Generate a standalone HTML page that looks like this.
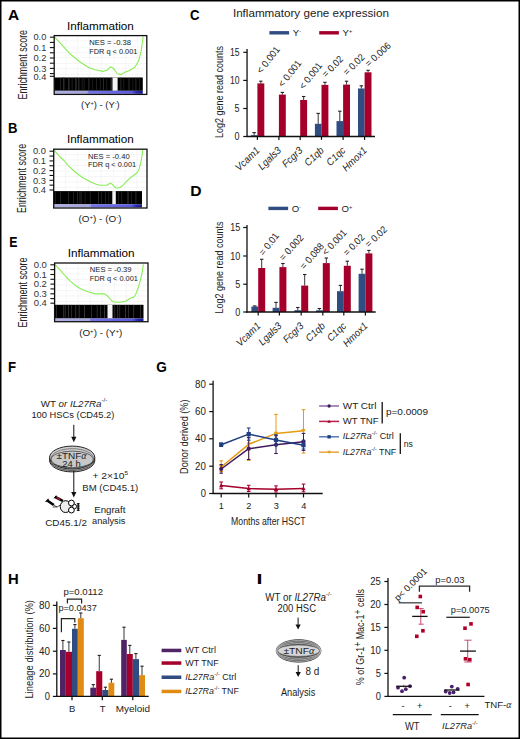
<!DOCTYPE html>
<html><head><meta charset="utf-8"><style>
html,body{margin:0;padding:0;background:#fff;}
body{width:520px;height:739px;overflow:hidden;position:relative;}
svg{position:absolute;left:0;top:0;display:block;font-family:"Liberation Sans", sans-serif;}
.bd{position:absolute;left:0;top:0;width:520px;height:739px;box-sizing:border-box;border:1px solid #000;pointer-events:none;}
</style></head><body>
<svg width="520" height="739" viewBox="0 0 520 739">
<rect x="0" y="0" width="520" height="739" fill="#fff"/>
<defs>
<linearGradient id="gA" x1="0" x2="1" y1="0" y2="0"><stop offset="0" stop-color="#b0b0e2"/><stop offset="0.37" stop-color="#a4a4de"/><stop offset="0.39" stop-color="#7474e6"/><stop offset="0.88" stop-color="#5a5ae0"/><stop offset="0.93" stop-color="#2a2ab0"/><stop offset="1" stop-color="#16168c"/></linearGradient>
<linearGradient id="gB" x1="0" x2="1" y1="0" y2="0"><stop offset="0" stop-color="#b0b0e2"/><stop offset="0.41" stop-color="#a4a4de"/><stop offset="0.43" stop-color="#7474e6"/><stop offset="0.88" stop-color="#5a5ae0"/><stop offset="0.93" stop-color="#2a2ab0"/><stop offset="1" stop-color="#16168c"/></linearGradient>
<linearGradient id="gE" x1="0" x2="1" y1="0" y2="0"><stop offset="0" stop-color="#b0b0e2"/><stop offset="0.39" stop-color="#a4a4de"/><stop offset="0.41" stop-color="#7474e6"/><stop offset="0.88" stop-color="#5a5ae0"/><stop offset="0.93" stop-color="#2a2ab0"/><stop offset="1" stop-color="#16168c"/></linearGradient>
</defs>
<text transform="translate(8.01,19.60) scale(1.099,1)" x="0" y="0" font-size="14.1" font-weight="bold" fill="#000">A</text>
<text x="66.90" y="29.60" font-size="11.2" textLength="66.90" lengthAdjust="spacingAndGlyphs">Inflammation</text>
<text x="26.80" y="99.50" font-size="12.4" fill="#222" textLength="69.60" lengthAdjust="spacingAndGlyphs" transform="rotate(-90 26.80 99.50)">Enrichment score</text>
<line x1="65.90" y1="35.60" x2="65.90" y2="77.50" stroke="#f0f0f0" stroke-width="0.6"/>
<line x1="77.70" y1="35.60" x2="77.70" y2="77.50" stroke="#f0f0f0" stroke-width="0.6"/>
<line x1="89.40" y1="35.60" x2="89.40" y2="77.50" stroke="#f0f0f0" stroke-width="0.6"/>
<line x1="101.60" y1="35.60" x2="101.60" y2="77.50" stroke="#f0f0f0" stroke-width="0.6"/>
<line x1="113.80" y1="35.60" x2="113.80" y2="77.50" stroke="#f0f0f0" stroke-width="0.6"/>
<line x1="125.60" y1="35.60" x2="125.60" y2="77.50" stroke="#f0f0f0" stroke-width="0.6"/>
<line x1="137.40" y1="35.60" x2="137.40" y2="77.50" stroke="#f0f0f0" stroke-width="0.6"/>
<line x1="54.20" y1="41.00" x2="146.80" y2="41.00" stroke="#f0f0f0" stroke-width="0.6"/>
<line x1="54.20" y1="46.90" x2="146.80" y2="46.90" stroke="#f0f0f0" stroke-width="0.6"/>
<line x1="54.20" y1="52.50" x2="146.80" y2="52.50" stroke="#f0f0f0" stroke-width="0.6"/>
<line x1="54.20" y1="57.50" x2="146.80" y2="57.50" stroke="#f0f0f0" stroke-width="0.6"/>
<line x1="54.20" y1="63.50" x2="146.80" y2="63.50" stroke="#f0f0f0" stroke-width="0.6"/>
<line x1="54.20" y1="68.60" x2="146.80" y2="68.60" stroke="#f0f0f0" stroke-width="0.6"/>
<line x1="54.20" y1="74.20" x2="146.80" y2="74.20" stroke="#f0f0f0" stroke-width="0.6"/>
<rect x="54.20" y="77.50" width="88.60" height="13.30" fill="#000"/>
<rect x="60.00" y="77.50" width="0.60" height="13.30" fill="#333"/>
<rect x="63.00" y="77.50" width="1.50" height="13.30" fill="#2a2a2a"/>
<rect x="68.20" y="77.50" width="0.60" height="13.30" fill="#444"/>
<rect x="69.00" y="77.50" width="0.50" height="13.30" fill="#333"/>
<rect x="71.80" y="77.50" width="0.60" height="13.30" fill="#333"/>
<rect x="75.40" y="77.50" width="1.10" height="13.30" fill="#3a3a3a"/>
<rect x="78.60" y="77.50" width="0.60" height="13.30" fill="#555"/>
<rect x="81.80" y="77.50" width="0.60" height="13.30" fill="#333"/>
<rect x="83.80" y="77.50" width="0.60" height="13.30" fill="#333"/>
<rect x="88.40" y="77.50" width="1.00" height="13.30" fill="#333"/>
<rect x="92.50" y="77.50" width="0.60" height="13.30" fill="#2a2a2a"/>
<rect x="96.20" y="77.50" width="0.60" height="13.30" fill="#333"/>
<rect x="100.00" y="77.50" width="0.60" height="13.30" fill="#2a2a2a"/>
<rect x="103.00" y="77.50" width="0.80" height="13.30" fill="#333"/>
<rect x="106.50" y="77.50" width="0.60" height="13.30" fill="#2a2a2a"/>
<rect x="110.80" y="77.50" width="0.80" height="13.30" fill="#444"/>
<rect x="120.50" y="77.50" width="0.80" height="13.30" fill="#333"/>
<rect x="123.50" y="77.50" width="0.60" height="13.30" fill="#2a2a2a"/>
<rect x="128.60" y="77.50" width="0.80" height="13.30" fill="#3a3a3a"/>
<rect x="132.60" y="77.50" width="0.60" height="13.30" fill="#2a2a2a"/>
<rect x="135.50" y="77.50" width="0.80" height="13.30" fill="#333"/>
<rect x="139.00" y="77.50" width="0.60" height="13.30" fill="#2a2a2a"/>
<rect x="112.50" y="77.50" width="5.10" height="13.30" fill="#f4f4f4"/>
<rect x="54.20" y="90.80" width="88.60" height="3.00" fill="url(#gA)"/>
<polyline points="54.8,37.2 61.2,44.2 70.5,54.3 79.7,61.7 88.9,67.7 95.0,69.8 98.0,70.2 102.6,71.4 106.8,70.5 110.5,66.8 113.7,68.6 117.4,73.7 121.5,74.6 124.8,72.3 129.4,70.5 134.9,67.2 138.6,60.8 140.9,52.5 142.3,43.2 143.2,36.3" fill="none" stroke="#88ee55" stroke-width="1.1" stroke-linejoin="round"/>
<rect x="54.2" y="35.6" width="92.60000000000001" height="58.800000000000004" fill="none" stroke="#111" stroke-width="1.3"/>
<line x1="49.90" y1="37.20" x2="54.20" y2="37.20" stroke="#111" stroke-width="1.1"/>
<line x1="49.90" y1="42.40" x2="54.20" y2="42.40" stroke="#111" stroke-width="1.1"/>
<line x1="49.90" y1="47.60" x2="54.20" y2="47.60" stroke="#111" stroke-width="1.1"/>
<line x1="49.90" y1="52.80" x2="54.20" y2="52.80" stroke="#111" stroke-width="1.1"/>
<line x1="49.90" y1="58.00" x2="54.20" y2="58.00" stroke="#111" stroke-width="1.1"/>
<line x1="49.90" y1="63.20" x2="54.20" y2="63.20" stroke="#111" stroke-width="1.1"/>
<line x1="49.90" y1="68.40" x2="54.20" y2="68.40" stroke="#111" stroke-width="1.1"/>
<line x1="49.90" y1="73.60" x2="54.20" y2="73.60" stroke="#111" stroke-width="1.1"/>
<line x1="49.90" y1="76.30" x2="54.20" y2="76.30" stroke="#111" stroke-width="1.1"/>
<text x="46.30" y="40.40" font-size="8.9" text-anchor="end" fill="#333" textLength="12.90" lengthAdjust="spacingAndGlyphs">0.0</text>
<text x="46.30" y="50.80" font-size="8.9" text-anchor="end" fill="#333" textLength="12.90" lengthAdjust="spacingAndGlyphs">0.1</text>
<text x="46.30" y="61.20" font-size="8.9" text-anchor="end" fill="#333" textLength="12.90" lengthAdjust="spacingAndGlyphs">0.2</text>
<text x="46.30" y="71.60" font-size="8.9" text-anchor="end" fill="#333" textLength="12.90" lengthAdjust="spacingAndGlyphs">0.3</text>
<text x="46.30" y="79.50" font-size="8.9" text-anchor="end" fill="#333" textLength="12.90" lengthAdjust="spacingAndGlyphs">0.4</text>
<text x="89.20" y="45.30" font-size="7.4" fill="#222" textLength="41.80" lengthAdjust="spacingAndGlyphs">NES = -0.38</text>
<text x="89.20" y="53.80" font-size="7.4" fill="#222" textLength="48.20" lengthAdjust="spacingAndGlyphs">FDR q &lt; 0.001</text>
<text x="81.10" y="108.40" font-size="9.0" fill="#222" textLength="38.60" lengthAdjust="spacingAndGlyphs">(Y<tspan font-size="5.5" dy="-3.2">+</tspan><tspan dy="3.2">) - (Y<tspan font-size="5.5" dy="-3.2">-</tspan><tspan dy="3.2">)</tspan></tspan></text>
<text transform="translate(8.02,133.00) scale(0.930,1)" x="0" y="0" font-size="14.1" font-weight="bold" fill="#000">B</text>
<text x="66.90" y="143.40" font-size="11.2" textLength="66.80" lengthAdjust="spacingAndGlyphs">Inflammation</text>
<text x="26.30" y="213.00" font-size="12.4" fill="#222" textLength="69.20" lengthAdjust="spacingAndGlyphs" transform="rotate(-90 26.30 213.00)">Enrichment score</text>
<line x1="65.50" y1="149.20" x2="65.50" y2="191.10" stroke="#f0f0f0" stroke-width="0.6"/>
<line x1="77.30" y1="149.20" x2="77.30" y2="191.10" stroke="#f0f0f0" stroke-width="0.6"/>
<line x1="89.00" y1="149.20" x2="89.00" y2="191.10" stroke="#f0f0f0" stroke-width="0.6"/>
<line x1="101.20" y1="149.20" x2="101.20" y2="191.10" stroke="#f0f0f0" stroke-width="0.6"/>
<line x1="113.40" y1="149.20" x2="113.40" y2="191.10" stroke="#f0f0f0" stroke-width="0.6"/>
<line x1="125.20" y1="149.20" x2="125.20" y2="191.10" stroke="#f0f0f0" stroke-width="0.6"/>
<line x1="137.00" y1="149.20" x2="137.00" y2="191.10" stroke="#f0f0f0" stroke-width="0.6"/>
<line x1="53.70" y1="154.50" x2="147.00" y2="154.50" stroke="#f0f0f0" stroke-width="0.6"/>
<line x1="53.70" y1="160.00" x2="147.00" y2="160.00" stroke="#f0f0f0" stroke-width="0.6"/>
<line x1="53.70" y1="165.50" x2="147.00" y2="165.50" stroke="#f0f0f0" stroke-width="0.6"/>
<line x1="53.70" y1="171.00" x2="147.00" y2="171.00" stroke="#f0f0f0" stroke-width="0.6"/>
<line x1="53.70" y1="176.50" x2="147.00" y2="176.50" stroke="#f0f0f0" stroke-width="0.6"/>
<line x1="53.70" y1="182.00" x2="147.00" y2="182.00" stroke="#f0f0f0" stroke-width="0.6"/>
<line x1="53.70" y1="187.50" x2="147.00" y2="187.50" stroke="#f0f0f0" stroke-width="0.6"/>
<rect x="53.70" y="191.10" width="88.30" height="13.20" fill="#000"/>
<rect x="55.20" y="191.10" width="0.60" height="13.20" fill="#2a2a2a"/>
<rect x="60.30" y="191.10" width="0.60" height="13.20" fill="#333"/>
<rect x="68.20" y="191.10" width="0.80" height="13.20" fill="#2a2a2a"/>
<rect x="73.20" y="191.10" width="0.60" height="13.20" fill="#333"/>
<rect x="77.00" y="191.10" width="0.60" height="13.20" fill="#3a3a3a"/>
<rect x="79.70" y="191.10" width="0.60" height="13.20" fill="#444"/>
<rect x="81.50" y="191.10" width="0.50" height="13.20" fill="#333"/>
<rect x="84.80" y="191.10" width="0.60" height="13.20" fill="#2a2a2a"/>
<rect x="89.90" y="191.10" width="0.60" height="13.20" fill="#333"/>
<rect x="98.20" y="191.10" width="0.80" height="13.20" fill="#333"/>
<rect x="101.00" y="191.10" width="0.60" height="13.20" fill="#2a2a2a"/>
<rect x="105.00" y="191.10" width="0.60" height="13.20" fill="#333"/>
<rect x="108.50" y="191.10" width="0.60" height="13.20" fill="#2a2a2a"/>
<rect x="118.00" y="191.10" width="0.60" height="13.20" fill="#2a2a2a"/>
<rect x="121.50" y="191.10" width="0.60" height="13.20" fill="#333"/>
<rect x="127.50" y="191.10" width="1.00" height="13.20" fill="#3a3a3a"/>
<rect x="131.00" y="191.10" width="0.60" height="13.20" fill="#2a2a2a"/>
<rect x="135.50" y="191.10" width="0.80" height="13.20" fill="#333"/>
<rect x="112.30" y="191.10" width="3.50" height="13.20" fill="#f4f4f4"/>
<rect x="53.70" y="204.30" width="88.30" height="3.10" fill="url(#gB)"/>
<polyline points="54.3,150.3 60.0,157.0 64.0,160.5 68.0,165.3 75.1,172.0 82.5,177.5 91.7,182.6 96.0,184.3 100.0,185.2 104.0,185.3 107.2,185.2 108.8,184.0 110.2,183.1 111.5,183.6 112.8,184.9 114.5,186.8 116.0,188.0 118.0,188.0 120.2,187.5 122.9,185.4 126.5,181.5 130.3,177.8 133.5,175.5 136.8,173.0 139.1,169.2 140.9,161.9 142.1,155.4 142.8,149.8" fill="none" stroke="#88ee55" stroke-width="1.1" stroke-linejoin="round"/>
<rect x="53.7" y="149.2" width="93.3" height="58.80000000000001" fill="none" stroke="#111" stroke-width="1.3"/>
<line x1="49.50" y1="151.20" x2="53.70" y2="151.20" stroke="#111" stroke-width="1.1"/>
<line x1="49.50" y1="156.05" x2="53.70" y2="156.05" stroke="#111" stroke-width="1.1"/>
<line x1="49.50" y1="160.90" x2="53.70" y2="160.90" stroke="#111" stroke-width="1.1"/>
<line x1="49.50" y1="165.75" x2="53.70" y2="165.75" stroke="#111" stroke-width="1.1"/>
<line x1="49.50" y1="170.60" x2="53.70" y2="170.60" stroke="#111" stroke-width="1.1"/>
<line x1="49.50" y1="175.45" x2="53.70" y2="175.45" stroke="#111" stroke-width="1.1"/>
<line x1="49.50" y1="180.30" x2="53.70" y2="180.30" stroke="#111" stroke-width="1.1"/>
<line x1="49.50" y1="185.15" x2="53.70" y2="185.15" stroke="#111" stroke-width="1.1"/>
<line x1="49.50" y1="190.00" x2="53.70" y2="190.00" stroke="#111" stroke-width="1.1"/>
<text x="45.90" y="154.40" font-size="8.9" text-anchor="end" fill="#333" textLength="13.00" lengthAdjust="spacingAndGlyphs">0.0</text>
<text x="45.90" y="164.10" font-size="8.9" text-anchor="end" fill="#333" textLength="13.00" lengthAdjust="spacingAndGlyphs">0.1</text>
<text x="45.90" y="173.80" font-size="8.9" text-anchor="end" fill="#333" textLength="13.00" lengthAdjust="spacingAndGlyphs">0.2</text>
<text x="45.90" y="183.50" font-size="8.9" text-anchor="end" fill="#333" textLength="13.00" lengthAdjust="spacingAndGlyphs">0.3</text>
<text x="45.90" y="193.20" font-size="8.9" text-anchor="end" fill="#333" textLength="13.00" lengthAdjust="spacingAndGlyphs">0.4</text>
<text x="88.00" y="158.50" font-size="7.4" fill="#222" textLength="41.70" lengthAdjust="spacingAndGlyphs">NES = -0.40</text>
<text x="88.00" y="166.90" font-size="7.4" fill="#222" textLength="48.10" lengthAdjust="spacingAndGlyphs">FDR q &lt; 0.001</text>
<text x="78.50" y="222.30" font-size="9.0" fill="#222" textLength="43.00" lengthAdjust="spacingAndGlyphs">(O<tspan font-size="5.5" dy="-3.2">+</tspan><tspan dy="3.2">) - (O<tspan font-size="5.5" dy="-3.2">-</tspan><tspan dy="3.2">)</tspan></tspan></text>
<text transform="translate(9.18,246.80) scale(0.872,1)" x="0" y="0" font-size="14.1" font-weight="bold" fill="#000">E</text>
<text x="67.70" y="257.30" font-size="11.2" textLength="66.90" lengthAdjust="spacingAndGlyphs">Inflammation</text>
<text x="26.90" y="327.40" font-size="12.4" fill="#222" textLength="70.00" lengthAdjust="spacingAndGlyphs" transform="rotate(-90 26.90 327.40)">Enrichment score</text>
<line x1="66.40" y1="263.00" x2="66.40" y2="304.80" stroke="#f0f0f0" stroke-width="0.6"/>
<line x1="78.20" y1="263.00" x2="78.20" y2="304.80" stroke="#f0f0f0" stroke-width="0.6"/>
<line x1="90.00" y1="263.00" x2="90.00" y2="304.80" stroke="#f0f0f0" stroke-width="0.6"/>
<line x1="102.20" y1="263.00" x2="102.20" y2="304.80" stroke="#f0f0f0" stroke-width="0.6"/>
<line x1="114.40" y1="263.00" x2="114.40" y2="304.80" stroke="#f0f0f0" stroke-width="0.6"/>
<line x1="126.20" y1="263.00" x2="126.20" y2="304.80" stroke="#f0f0f0" stroke-width="0.6"/>
<line x1="138.00" y1="263.00" x2="138.00" y2="304.80" stroke="#f0f0f0" stroke-width="0.6"/>
<line x1="54.60" y1="268.50" x2="148.00" y2="268.50" stroke="#f0f0f0" stroke-width="0.6"/>
<line x1="54.60" y1="274.00" x2="148.00" y2="274.00" stroke="#f0f0f0" stroke-width="0.6"/>
<line x1="54.60" y1="279.50" x2="148.00" y2="279.50" stroke="#f0f0f0" stroke-width="0.6"/>
<line x1="54.60" y1="285.00" x2="148.00" y2="285.00" stroke="#f0f0f0" stroke-width="0.6"/>
<line x1="54.60" y1="290.50" x2="148.00" y2="290.50" stroke="#f0f0f0" stroke-width="0.6"/>
<line x1="54.60" y1="296.00" x2="148.00" y2="296.00" stroke="#f0f0f0" stroke-width="0.6"/>
<line x1="54.60" y1="301.50" x2="148.00" y2="301.50" stroke="#f0f0f0" stroke-width="0.6"/>
<rect x="54.60" y="304.80" width="88.90" height="13.70" fill="#000"/>
<rect x="56.20" y="304.80" width="0.60" height="13.70" fill="#444"/>
<rect x="63.50" y="304.80" width="0.60" height="13.70" fill="#555"/>
<rect x="64.90" y="304.80" width="0.60" height="13.70" fill="#444"/>
<rect x="68.20" y="304.80" width="0.60" height="13.70" fill="#555"/>
<rect x="71.40" y="304.80" width="0.60" height="13.70" fill="#444"/>
<rect x="75.50" y="304.80" width="0.60" height="13.70" fill="#555"/>
<rect x="78.80" y="304.80" width="0.60" height="13.70" fill="#555"/>
<rect x="84.30" y="304.80" width="0.60" height="13.70" fill="#555"/>
<rect x="91.20" y="304.80" width="0.60" height="13.70" fill="#444"/>
<rect x="96.80" y="304.80" width="0.60" height="13.70" fill="#444"/>
<rect x="100.00" y="304.80" width="0.60" height="13.70" fill="#444"/>
<rect x="104.00" y="304.80" width="0.60" height="13.70" fill="#555"/>
<rect x="114.50" y="304.80" width="0.60" height="13.70" fill="#444"/>
<rect x="117.50" y="304.80" width="0.60" height="13.70" fill="#555"/>
<rect x="119.50" y="304.80" width="0.60" height="13.70" fill="#444"/>
<rect x="125.00" y="304.80" width="0.60" height="13.70" fill="#555"/>
<rect x="128.00" y="304.80" width="0.60" height="13.70" fill="#444"/>
<rect x="133.50" y="304.80" width="0.60" height="13.70" fill="#555"/>
<rect x="140.00" y="304.80" width="0.60" height="13.70" fill="#444"/>
<rect x="107.50" y="304.80" width="5.00" height="13.70" fill="#f4f4f4"/>
<rect x="54.60" y="318.50" width="88.90" height="2.50" fill="url(#gE)"/>
<polyline points="55.0,264.6 61.2,271.2 65.8,276.5 70.5,281.4 75.0,285.2 79.7,288.3 84.3,290.4 88.9,292.0 94.5,293.6 98.0,293.9 101.0,293.7 104.5,293.9 107.2,295.7 110.0,298.9 112.8,301.7 116.0,302.3 119.2,302.2 122.5,301.9 125.7,301.2 128.0,299.8 130.3,298.2 132.5,297.4 134.0,297.0 135.5,294.8 136.8,291.5 138.3,287.5 139.6,283.2 141.9,274.0 143.4,264.3" fill="none" stroke="#88ee55" stroke-width="1.1" stroke-linejoin="round"/>
<rect x="54.6" y="263.0" width="93.4" height="58.69999999999999" fill="none" stroke="#111" stroke-width="1.3"/>
<line x1="50.40" y1="264.80" x2="54.60" y2="264.80" stroke="#111" stroke-width="1.1"/>
<line x1="50.40" y1="269.60" x2="54.60" y2="269.60" stroke="#111" stroke-width="1.1"/>
<line x1="50.40" y1="274.50" x2="54.60" y2="274.50" stroke="#111" stroke-width="1.1"/>
<line x1="50.40" y1="279.30" x2="54.60" y2="279.30" stroke="#111" stroke-width="1.1"/>
<line x1="50.40" y1="284.10" x2="54.60" y2="284.10" stroke="#111" stroke-width="1.1"/>
<line x1="50.40" y1="288.90" x2="54.60" y2="288.90" stroke="#111" stroke-width="1.1"/>
<line x1="50.40" y1="293.80" x2="54.60" y2="293.80" stroke="#111" stroke-width="1.1"/>
<line x1="50.40" y1="298.60" x2="54.60" y2="298.60" stroke="#111" stroke-width="1.1"/>
<line x1="50.40" y1="303.20" x2="54.60" y2="303.20" stroke="#111" stroke-width="1.1"/>
<text x="46.90" y="268.00" font-size="8.9" text-anchor="end" fill="#333" textLength="13.20" lengthAdjust="spacingAndGlyphs">0.0</text>
<text x="46.90" y="277.70" font-size="8.9" text-anchor="end" fill="#333" textLength="13.20" lengthAdjust="spacingAndGlyphs">0.1</text>
<text x="46.90" y="287.30" font-size="8.9" text-anchor="end" fill="#333" textLength="13.20" lengthAdjust="spacingAndGlyphs">0.2</text>
<text x="46.90" y="297.00" font-size="8.9" text-anchor="end" fill="#333" textLength="13.20" lengthAdjust="spacingAndGlyphs">0.3</text>
<text x="46.90" y="306.40" font-size="8.9" text-anchor="end" fill="#333" textLength="13.20" lengthAdjust="spacingAndGlyphs">0.4</text>
<text x="89.80" y="272.30" font-size="7.4" fill="#222" textLength="41.80" lengthAdjust="spacingAndGlyphs">NES = -0.39</text>
<text x="89.80" y="281.00" font-size="7.4" fill="#222" textLength="48.10" lengthAdjust="spacingAndGlyphs">FDR q &lt; 0.001</text>
<text x="79.20" y="336.40" font-size="9.0" fill="#222" textLength="43.10" lengthAdjust="spacingAndGlyphs">(O<tspan font-size="5.5" dy="-3.2">+</tspan><tspan dy="3.2">) - (Y<tspan font-size="5.5" dy="-3.2">+</tspan><tspan dy="3.2">)</tspan></tspan></text>
<text transform="translate(189.96,19.50) scale(0.933,1)" x="0" y="0" font-size="14.1" font-weight="bold" fill="#000">C</text>
<rect x="250.80" y="135.20" width="6.60" height="1.30" fill="#2f4d80"/>
<line x1="254.10" y1="135.20" x2="254.10" y2="132.60" stroke="#231f20" stroke-width="0.9"/>
<line x1="252.40" y1="132.60" x2="255.80" y2="132.60" stroke="#231f20" stroke-width="1.1"/>
<rect x="257.40" y="83.40" width="6.90" height="53.10" fill="#a5002c"/>
<line x1="260.85" y1="83.40" x2="260.85" y2="81.20" stroke="#231f20" stroke-width="0.9"/>
<line x1="259.15" y1="81.20" x2="262.55" y2="81.20" stroke="#231f20" stroke-width="1.1"/>
<rect x="278.90" y="94.60" width="6.90" height="41.90" fill="#a5002c"/>
<line x1="282.35" y1="94.60" x2="282.35" y2="92.40" stroke="#231f20" stroke-width="0.9"/>
<line x1="280.65" y1="92.40" x2="284.05" y2="92.40" stroke="#231f20" stroke-width="1.1"/>
<rect x="300.20" y="100.00" width="6.90" height="36.50" fill="#a5002c"/>
<line x1="303.65" y1="100.00" x2="303.65" y2="96.50" stroke="#231f20" stroke-width="0.9"/>
<line x1="301.95" y1="96.50" x2="305.35" y2="96.50" stroke="#231f20" stroke-width="1.1"/>
<rect x="314.90" y="123.80" width="6.60" height="12.70" fill="#2f4d80"/>
<line x1="318.20" y1="123.80" x2="318.20" y2="113.40" stroke="#231f20" stroke-width="0.9"/>
<line x1="316.50" y1="113.40" x2="319.90" y2="113.40" stroke="#231f20" stroke-width="1.1"/>
<rect x="321.50" y="84.90" width="6.90" height="51.60" fill="#a5002c"/>
<line x1="324.95" y1="84.90" x2="324.95" y2="82.30" stroke="#231f20" stroke-width="0.9"/>
<line x1="323.25" y1="82.30" x2="326.65" y2="82.30" stroke="#231f20" stroke-width="1.1"/>
<rect x="336.50" y="121.10" width="6.60" height="15.40" fill="#2f4d80"/>
<line x1="339.80" y1="121.10" x2="339.80" y2="111.20" stroke="#231f20" stroke-width="0.9"/>
<line x1="338.10" y1="111.20" x2="341.50" y2="111.20" stroke="#231f20" stroke-width="1.1"/>
<rect x="343.10" y="84.60" width="6.90" height="51.90" fill="#a5002c"/>
<line x1="346.55" y1="84.60" x2="346.55" y2="81.20" stroke="#231f20" stroke-width="0.9"/>
<line x1="344.85" y1="81.20" x2="348.25" y2="81.20" stroke="#231f20" stroke-width="1.1"/>
<rect x="358.00" y="88.50" width="6.60" height="48.00" fill="#2f4d80"/>
<line x1="361.30" y1="88.50" x2="361.30" y2="85.80" stroke="#231f20" stroke-width="0.9"/>
<line x1="359.60" y1="85.80" x2="363.00" y2="85.80" stroke="#231f20" stroke-width="1.1"/>
<rect x="364.60" y="72.30" width="6.90" height="64.20" fill="#a5002c"/>
<line x1="368.05" y1="72.30" x2="368.05" y2="70.30" stroke="#231f20" stroke-width="0.9"/>
<line x1="366.35" y1="70.30" x2="369.75" y2="70.30" stroke="#231f20" stroke-width="1.1"/>
<line x1="247.05" y1="49.00" x2="247.05" y2="137.10" stroke="#111" stroke-width="1.3"/>
<line x1="246.45" y1="136.50" x2="375.00" y2="136.50" stroke="#111" stroke-width="1.3"/>
<line x1="243.25" y1="52.30" x2="247.05" y2="52.30" stroke="#111" stroke-width="1.2"/>
<text x="239.60" y="55.80" font-size="10.0" text-anchor="end" fill="#222" textLength="9.60" lengthAdjust="spacingAndGlyphs">15</text>
<line x1="243.25" y1="80.40" x2="247.05" y2="80.40" stroke="#111" stroke-width="1.2"/>
<text x="239.60" y="83.90" font-size="10.0" text-anchor="end" fill="#222" textLength="9.60" lengthAdjust="spacingAndGlyphs">10</text>
<line x1="243.25" y1="108.50" x2="247.05" y2="108.50" stroke="#111" stroke-width="1.2"/>
<text x="239.60" y="112.00" font-size="10.0" text-anchor="end" fill="#222" textLength="5.00" lengthAdjust="spacingAndGlyphs">5</text>
<line x1="243.25" y1="136.50" x2="247.05" y2="136.50" stroke="#111" stroke-width="1.2"/>
<text x="239.60" y="140.00" font-size="10.0" text-anchor="end" fill="#222" textLength="5.00" lengthAdjust="spacingAndGlyphs">0</text>
<line x1="257.40" y1="136.50" x2="257.40" y2="139.90" stroke="#111" stroke-width="1.2"/>
<line x1="278.90" y1="136.50" x2="278.90" y2="139.90" stroke="#111" stroke-width="1.2"/>
<line x1="300.20" y1="136.50" x2="300.20" y2="139.90" stroke="#111" stroke-width="1.2"/>
<line x1="321.50" y1="136.50" x2="321.50" y2="139.90" stroke="#111" stroke-width="1.2"/>
<line x1="343.10" y1="136.50" x2="343.10" y2="139.90" stroke="#111" stroke-width="1.2"/>
<line x1="364.60" y1="136.50" x2="364.60" y2="139.90" stroke="#111" stroke-width="1.2"/>
<text x="222.60" y="138.00" font-size="10.6" fill="#222" textLength="91.90" lengthAdjust="spacingAndGlyphs" transform="rotate(-90 222.60 138.00)">Log2 gene read counts</text>
<text x="261.37" y="74.13" font-size="9.8" fill="#222" textLength="30.95" lengthAdjust="spacingAndGlyphs" transform="rotate(-52 261.37 74.13)">&lt; 0.001</text>
<text x="282.82" y="87.76" font-size="9.8" fill="#222" textLength="30.95" lengthAdjust="spacingAndGlyphs" transform="rotate(-52 282.82 87.76)">&lt; 0.001</text>
<text x="303.72" y="90.06" font-size="9.8" fill="#222" textLength="30.95" lengthAdjust="spacingAndGlyphs" transform="rotate(-52 303.72 90.06)">&lt; 0.001</text>
<text x="325.96" y="78.11" font-size="9.8" fill="#222" textLength="25.83" lengthAdjust="spacingAndGlyphs" transform="rotate(-46 325.96 78.11)">= 0.02</text>
<text x="347.09" y="76.12" font-size="9.8" fill="#222" textLength="25.83" lengthAdjust="spacingAndGlyphs" transform="rotate(-45 347.09 76.12)">= 0.02</text>
<text x="368.68" y="67.35" font-size="9.8" fill="#222" textLength="30.95" lengthAdjust="spacingAndGlyphs" transform="rotate(-42 368.68 67.35)">= 0.006</text>
<text x="260.40" y="151.20" font-size="10.2" text-anchor="end" font-style="italic" fill="#222" textLength="29.27" lengthAdjust="spacingAndGlyphs" transform="rotate(-44 260.40 151.20)">Vcam1</text>
<text x="281.90" y="151.20" font-size="10.2" text-anchor="end" font-style="italic" fill="#222" textLength="27.71" lengthAdjust="spacingAndGlyphs" transform="rotate(-44 281.90 151.20)">Lgals3</text>
<text x="303.20" y="151.20" font-size="10.2" text-anchor="end" font-style="italic" fill="#222" textLength="24.04" lengthAdjust="spacingAndGlyphs" transform="rotate(-44 303.20 151.20)">Fcgr3</text>
<text x="324.50" y="151.20" font-size="10.2" text-anchor="end" font-style="italic" fill="#222" textLength="22.48" lengthAdjust="spacingAndGlyphs" transform="rotate(-44 324.50 151.20)">C1qb</text>
<text x="346.10" y="151.20" font-size="10.2" text-anchor="end" font-style="italic" fill="#222" textLength="21.96" lengthAdjust="spacingAndGlyphs" transform="rotate(-44 346.10 151.20)">C1qc</text>
<text x="367.60" y="151.20" font-size="10.2" text-anchor="end" font-style="italic" fill="#222" textLength="29.79" lengthAdjust="spacingAndGlyphs" transform="rotate(-44 367.60 151.20)">Hmox1</text>
<text x="232.90" y="17.30" font-size="11.0" fill="#222" textLength="156.00" lengthAdjust="spacingAndGlyphs">Inflammatory gene expression</text>
<rect x="269.40" y="31.10" width="19.70" height="3.40" fill="#2f4d80"/>
<text x="292.80" y="36.10" font-size="9.6" fill="#222">Y<tspan font-size="4.8" dy="-3.2">-</tspan><tspan dy="3.2"></tspan></text>
<rect x="319.20" y="31.10" width="19.70" height="3.40" fill="#a5002c"/>
<text x="342.50" y="36.10" font-size="9.6" fill="#222">Y<tspan font-size="5.6" dy="-3.2">+</tspan><tspan dy="3.2"></tspan></text>
<text transform="translate(190.15,195.70) scale(1.110,1)" x="0" y="0" font-size="14.1" font-weight="bold" fill="#000">D</text>
<rect x="251.40" y="306.50" width="6.80" height="5.50" fill="#2f4d80"/>
<line x1="254.80" y1="306.50" x2="254.80" y2="305.90" stroke="#231f20" stroke-width="0.9"/>
<line x1="253.10" y1="305.90" x2="256.50" y2="305.90" stroke="#231f20" stroke-width="1.1"/>
<rect x="258.20" y="268.00" width="7.00" height="44.00" fill="#a5002c"/>
<line x1="261.70" y1="268.00" x2="261.70" y2="259.30" stroke="#231f20" stroke-width="0.9"/>
<line x1="260.00" y1="259.30" x2="263.40" y2="259.30" stroke="#231f20" stroke-width="1.1"/>
<rect x="272.60" y="307.80" width="6.80" height="4.20" fill="#2f4d80"/>
<line x1="276.00" y1="307.80" x2="276.00" y2="302.40" stroke="#231f20" stroke-width="0.9"/>
<line x1="274.30" y1="302.40" x2="277.70" y2="302.40" stroke="#231f20" stroke-width="1.1"/>
<rect x="279.40" y="267.10" width="7.00" height="44.90" fill="#a5002c"/>
<line x1="282.90" y1="267.10" x2="282.90" y2="263.50" stroke="#231f20" stroke-width="0.9"/>
<line x1="281.20" y1="263.50" x2="284.60" y2="263.50" stroke="#231f20" stroke-width="1.1"/>
<rect x="294.40" y="310.20" width="6.80" height="1.80" fill="#2f4d80"/>
<line x1="297.80" y1="310.20" x2="297.80" y2="307.50" stroke="#231f20" stroke-width="0.9"/>
<line x1="296.10" y1="307.50" x2="299.50" y2="307.50" stroke="#231f20" stroke-width="1.1"/>
<rect x="301.20" y="285.60" width="7.00" height="26.40" fill="#a5002c"/>
<line x1="304.70" y1="285.60" x2="304.70" y2="274.50" stroke="#231f20" stroke-width="0.9"/>
<line x1="303.00" y1="274.50" x2="306.40" y2="274.50" stroke="#231f20" stroke-width="1.1"/>
<rect x="316.00" y="310.30" width="6.80" height="1.70" fill="#2f4d80"/>
<line x1="319.40" y1="310.30" x2="319.40" y2="308.50" stroke="#231f20" stroke-width="0.9"/>
<line x1="317.70" y1="308.50" x2="321.10" y2="308.50" stroke="#231f20" stroke-width="1.1"/>
<rect x="322.80" y="263.10" width="7.00" height="48.90" fill="#a5002c"/>
<line x1="326.30" y1="263.10" x2="326.30" y2="258.00" stroke="#231f20" stroke-width="0.9"/>
<line x1="324.60" y1="258.00" x2="328.00" y2="258.00" stroke="#231f20" stroke-width="1.1"/>
<rect x="337.00" y="291.20" width="6.80" height="20.80" fill="#2f4d80"/>
<line x1="340.40" y1="291.20" x2="340.40" y2="285.40" stroke="#231f20" stroke-width="0.9"/>
<line x1="338.70" y1="285.40" x2="342.10" y2="285.40" stroke="#231f20" stroke-width="1.1"/>
<rect x="343.80" y="265.80" width="7.00" height="46.20" fill="#a5002c"/>
<line x1="347.30" y1="265.80" x2="347.30" y2="261.20" stroke="#231f20" stroke-width="0.9"/>
<line x1="345.60" y1="261.20" x2="349.00" y2="261.20" stroke="#231f20" stroke-width="1.1"/>
<rect x="358.60" y="273.80" width="6.80" height="38.20" fill="#2f4d80"/>
<line x1="362.00" y1="273.80" x2="362.00" y2="269.20" stroke="#231f20" stroke-width="0.9"/>
<line x1="360.30" y1="269.20" x2="363.70" y2="269.20" stroke="#231f20" stroke-width="1.1"/>
<rect x="365.40" y="253.40" width="7.00" height="58.60" fill="#a5002c"/>
<line x1="368.90" y1="253.40" x2="368.90" y2="250.40" stroke="#231f20" stroke-width="0.9"/>
<line x1="367.20" y1="250.40" x2="370.60" y2="250.40" stroke="#231f20" stroke-width="1.1"/>
<line x1="247.00" y1="225.00" x2="247.00" y2="312.60" stroke="#111" stroke-width="1.3"/>
<line x1="246.40" y1="312.00" x2="375.70" y2="312.00" stroke="#111" stroke-width="1.3"/>
<line x1="243.20" y1="227.50" x2="247.00" y2="227.50" stroke="#111" stroke-width="1.2"/>
<text x="240.20" y="231.00" font-size="10.0" text-anchor="end" fill="#222" textLength="10.00" lengthAdjust="spacingAndGlyphs">15</text>
<line x1="243.20" y1="256.00" x2="247.00" y2="256.00" stroke="#111" stroke-width="1.2"/>
<text x="240.20" y="259.50" font-size="10.0" text-anchor="end" fill="#222" textLength="10.00" lengthAdjust="spacingAndGlyphs">10</text>
<line x1="243.20" y1="284.20" x2="247.00" y2="284.20" stroke="#111" stroke-width="1.2"/>
<text x="240.20" y="287.70" font-size="10.0" text-anchor="end" fill="#222" textLength="5.00" lengthAdjust="spacingAndGlyphs">5</text>
<line x1="243.20" y1="312.00" x2="247.00" y2="312.00" stroke="#111" stroke-width="1.2"/>
<text x="240.20" y="315.50" font-size="10.0" text-anchor="end" fill="#222" textLength="5.00" lengthAdjust="spacingAndGlyphs">0</text>
<line x1="258.20" y1="312.00" x2="258.20" y2="315.40" stroke="#111" stroke-width="1.2"/>
<line x1="279.40" y1="312.00" x2="279.40" y2="315.40" stroke="#111" stroke-width="1.2"/>
<line x1="301.20" y1="312.00" x2="301.20" y2="315.40" stroke="#111" stroke-width="1.2"/>
<line x1="322.80" y1="312.00" x2="322.80" y2="315.40" stroke="#111" stroke-width="1.2"/>
<line x1="343.80" y1="312.00" x2="343.80" y2="315.40" stroke="#111" stroke-width="1.2"/>
<line x1="365.40" y1="312.00" x2="365.40" y2="315.40" stroke="#111" stroke-width="1.2"/>
<text x="222.80" y="313.40" font-size="10.6" fill="#222" textLength="91.90" lengthAdjust="spacingAndGlyphs" transform="rotate(-90 222.80 313.40)">Log2 gene read counts</text>
<text x="263.62" y="256.36" font-size="9.8" fill="#222" textLength="25.83" lengthAdjust="spacingAndGlyphs" transform="rotate(-52 263.62 256.36)">= 0.01</text>
<text x="283.41" y="261.17" font-size="9.8" fill="#222" textLength="30.95" lengthAdjust="spacingAndGlyphs" transform="rotate(-48 283.41 261.17)">= 0.002</text>
<text x="304.28" y="269.95" font-size="9.8" fill="#222" textLength="30.95" lengthAdjust="spacingAndGlyphs" transform="rotate(-49 304.28 269.95)">= 0.088</text>
<text x="326.23" y="255.89" font-size="9.8" fill="#222" textLength="30.95" lengthAdjust="spacingAndGlyphs" transform="rotate(-47 326.23 255.89)">&lt; 0.001</text>
<text x="347.26" y="256.51" font-size="9.8" fill="#222" textLength="25.83" lengthAdjust="spacingAndGlyphs" transform="rotate(-46 347.26 256.51)">= 0.02</text>
<text x="368.85" y="247.94" font-size="9.8" fill="#222" textLength="25.83" lengthAdjust="spacingAndGlyphs" transform="rotate(-43 368.85 247.94)">= 0.02</text>
<text x="261.20" y="326.70" font-size="10.2" text-anchor="end" font-style="italic" fill="#222" textLength="29.27" lengthAdjust="spacingAndGlyphs" transform="rotate(-44 261.20 326.70)">Vcam1</text>
<text x="282.40" y="326.70" font-size="10.2" text-anchor="end" font-style="italic" fill="#222" textLength="27.71" lengthAdjust="spacingAndGlyphs" transform="rotate(-44 282.40 326.70)">Lgals3</text>
<text x="304.20" y="326.70" font-size="10.2" text-anchor="end" font-style="italic" fill="#222" textLength="24.04" lengthAdjust="spacingAndGlyphs" transform="rotate(-44 304.20 326.70)">Fcgr3</text>
<text x="325.80" y="326.70" font-size="10.2" text-anchor="end" font-style="italic" fill="#222" textLength="22.48" lengthAdjust="spacingAndGlyphs" transform="rotate(-44 325.80 326.70)">C1qb</text>
<text x="346.80" y="326.70" font-size="10.2" text-anchor="end" font-style="italic" fill="#222" textLength="21.96" lengthAdjust="spacingAndGlyphs" transform="rotate(-44 346.80 326.70)">C1qc</text>
<text x="368.40" y="326.70" font-size="10.2" text-anchor="end" font-style="italic" fill="#222" textLength="29.79" lengthAdjust="spacingAndGlyphs" transform="rotate(-44 368.40 326.70)">Hmox1</text>
<rect x="268.40" y="206.70" width="19.70" height="3.40" fill="#2f4d80"/>
<text x="291.80" y="211.70" font-size="9.6" fill="#222">O<tspan font-size="4.8" dy="-3.2">-</tspan><tspan dy="3.2"></tspan></text>
<rect x="318.20" y="206.70" width="19.70" height="3.40" fill="#a5002c"/>
<text x="341.50" y="211.70" font-size="9.6" fill="#222">O<tspan font-size="5.6" dy="-3.2">+</tspan><tspan dy="3.2"></tspan></text>
<text transform="translate(8.12,371.80) scale(0.937,1)" x="0" y="0" font-size="14.1" font-weight="bold" fill="#000">F</text>
<text x="40.80" y="406.70" font-size="9.6" fill="#222" textLength="66.40" lengthAdjust="spacingAndGlyphs">WT <tspan font-style="italic">or IL27Ra</tspan><tspan font-size="6.0" dy="-4.3">-/-</tspan><tspan dy="4.3"></tspan></text>
<text x="31.40" y="417.60" font-size="9.6" fill="#222" textLength="83.00" lengthAdjust="spacingAndGlyphs">100 HSCs (CD45.2)</text>
<line x1="73.80" y1="424.80" x2="73.80" y2="437.20" stroke="#111" stroke-width="1.0"/>
<path d="M71.20,436.70 L76.40,436.70 L73.80,442.20 Z" fill="#111"/>
<ellipse cx="72.2" cy="460.5" rx="22.6" ry="11.4" fill="#bdbdbd" stroke="#111" stroke-width="0.9"/>
<ellipse cx="72.2" cy="459.0" rx="22.6" ry="11.4" fill="#bdbdbd" stroke="#222" stroke-width="0.7"/>
<ellipse cx="72.2" cy="457.5" rx="22.6" ry="11.4" fill="#cfcfcf" stroke="#111" stroke-width="0.9"/>
<ellipse cx="72.2" cy="458.5" rx="21.2" ry="9.8" fill="none" stroke="#444" stroke-width="0.6"/>
<ellipse cx="72.2" cy="459.4" rx="21.0" ry="8.3" fill="#c8c8c8" stroke="#333" stroke-width="0.7"/>
<text x="56.50" y="459.30" font-size="9.6" fill="#222" textLength="30.00" lengthAdjust="spacingAndGlyphs">±TNF<tspan font-family="Liberation Serif" font-style="italic">α</tspan></text>
<text x="62.30" y="467.40" font-size="9.6" fill="#222" textLength="18.50" lengthAdjust="spacingAndGlyphs">24 h</text>
<line x1="73.80" y1="470.80" x2="73.80" y2="492.50" stroke="#111" stroke-width="1.0"/>
<path d="M71.20,492.00 L76.40,492.00 L73.80,497.50 Z" fill="#111"/>
<text x="92.50" y="478.80" font-size="9.6" fill="#222" textLength="35.60" lengthAdjust="spacingAndGlyphs">+ 2×10<tspan font-size="6.0" dy="-3.8">5</tspan><tspan dy="3.8"></tspan></text>
<text x="82.30" y="490.90" font-size="9.6" fill="#222" textLength="55.90" lengthAdjust="spacingAndGlyphs">BM (CD45.1)</text>
<line x1="47.20" y1="500.50" x2="53.80" y2="505.00" stroke="#000" stroke-width="2.6"/>
<line x1="45.60" y1="501.90" x2="48.60" y2="498.90" stroke="#000" stroke-width="1.2"/>
<line x1="53.80" y1="505.00" x2="57.00" y2="507.00" stroke="#000" stroke-width="0.6"/>
<line x1="55.20" y1="497.00" x2="62.80" y2="500.90" stroke="#000" stroke-width="2.6"/>
<line x1="56.60" y1="497.60" x2="60.20" y2="499.60" stroke="#c8102e" stroke-width="1.6"/>
<line x1="54.00" y1="498.30" x2="56.20" y2="495.60" stroke="#000" stroke-width="1.0"/>
<path d="M52.8,507.0 C55,506.8 57.5,507.2 58.5,506.2 C59.5,505.3 60.5,505.2 61.5,505.4" fill="none" stroke="#000" stroke-width="0.8"/>
<ellipse cx="65.6" cy="506.6" rx="5.4" ry="5.9" fill="#ededed" stroke="#000" stroke-width="1.0"/>
<circle cx="71.4" cy="503.0" r="2.9" fill="#fff" stroke="#000" stroke-width="1.0"/>
<circle cx="71.4" cy="510.1" r="2.9" fill="#fff" stroke="#000" stroke-width="1.0"/>
<ellipse cx="74.6" cy="506.5" rx="1.9" ry="2.3" fill="#fff" stroke="#000" stroke-width="0.9"/>
<line x1="78.20" y1="503.00" x2="78.20" y2="511.00" stroke="#000" stroke-width="1.3"/>
<line x1="76.80" y1="503.80" x2="79.80" y2="503.80" stroke="#000" stroke-width="0.9"/>
<line x1="76.80" y1="506.00" x2="79.80" y2="506.00" stroke="#000" stroke-width="0.9"/>
<line x1="76.80" y1="508.20" x2="79.80" y2="508.20" stroke="#000" stroke-width="0.9"/>
<line x1="76.80" y1="510.30" x2="79.80" y2="510.30" stroke="#000" stroke-width="0.9"/>
<text x="45.20" y="525.60" font-size="9.6" fill="#222" textLength="41.70" lengthAdjust="spacingAndGlyphs">CD45.1/2</text>
<text x="94.20" y="513.00" font-size="9.6" fill="#222" textLength="31.20" lengthAdjust="spacingAndGlyphs">Engraft</text>
<text x="92.00" y="524.20" font-size="9.6" fill="#222" textLength="33.40" lengthAdjust="spacingAndGlyphs">analysis</text>
<text transform="translate(156.24,371.50) scale(0.967,1)" x="0" y="0" font-size="14.1" font-weight="bold" fill="#000">G</text>
<line x1="213.10" y1="380.80" x2="213.10" y2="494.10" stroke="#111" stroke-width="1.3"/>
<line x1="212.50" y1="493.50" x2="322.70" y2="493.50" stroke="#111" stroke-width="1.3"/>
<line x1="209.20" y1="384.20" x2="213.10" y2="384.20" stroke="#111" stroke-width="1.2"/>
<text x="205.90" y="387.70" font-size="10.0" text-anchor="end" fill="#222" textLength="10.80" lengthAdjust="spacingAndGlyphs">80</text>
<line x1="209.20" y1="411.60" x2="213.10" y2="411.60" stroke="#111" stroke-width="1.2"/>
<text x="205.90" y="415.10" font-size="10.0" text-anchor="end" fill="#222" textLength="10.80" lengthAdjust="spacingAndGlyphs">60</text>
<line x1="209.20" y1="438.80" x2="213.10" y2="438.80" stroke="#111" stroke-width="1.2"/>
<text x="205.90" y="442.30" font-size="10.0" text-anchor="end" fill="#222" textLength="10.80" lengthAdjust="spacingAndGlyphs">40</text>
<line x1="209.20" y1="466.20" x2="213.10" y2="466.20" stroke="#111" stroke-width="1.2"/>
<text x="205.90" y="469.70" font-size="10.0" text-anchor="end" fill="#222" textLength="10.80" lengthAdjust="spacingAndGlyphs">20</text>
<line x1="209.20" y1="493.50" x2="213.10" y2="493.50" stroke="#111" stroke-width="1.2"/>
<text x="205.90" y="497.00" font-size="10.0" text-anchor="end" fill="#222" textLength="5.20" lengthAdjust="spacingAndGlyphs">0</text>
<line x1="221.20" y1="493.50" x2="221.20" y2="497.50" stroke="#111" stroke-width="1.2"/>
<text x="221.40" y="509.30" font-size="9.2" text-anchor="middle" fill="#222">1</text>
<line x1="248.70" y1="493.50" x2="248.70" y2="497.50" stroke="#111" stroke-width="1.2"/>
<text x="248.90" y="509.30" font-size="9.2" text-anchor="middle" fill="#222">2</text>
<line x1="276.00" y1="493.50" x2="276.00" y2="497.50" stroke="#111" stroke-width="1.2"/>
<text x="276.20" y="509.30" font-size="9.2" text-anchor="middle" fill="#222">3</text>
<line x1="303.50" y1="493.50" x2="303.50" y2="497.50" stroke="#111" stroke-width="1.2"/>
<text x="303.70" y="509.30" font-size="9.2" text-anchor="middle" fill="#222">4</text>
<text x="231.10" y="525.10" font-size="10.6" fill="#222" textLength="74.40" lengthAdjust="spacingAndGlyphs">Months after HSCT</text>
<text x="188.30" y="474.00" font-size="11.8" fill="#222" textLength="74.60" lengthAdjust="spacingAndGlyphs" transform="rotate(-90 188.30 474.00)">Donor derived (%)</text>
<polyline points="221.2,467.0 248.7,444.3 276.0,433.4 303.5,430.8" fill="none" stroke="#e89a10" stroke-width="1.5" stroke-linejoin="round"/>
<line x1="221.20" y1="460.80" x2="221.20" y2="471.50" stroke="#e89a10" stroke-width="1.0"/>
<line x1="219.40" y1="460.80" x2="223.00" y2="460.80" stroke="#e89a10" stroke-width="1.1"/>
<line x1="219.40" y1="471.50" x2="223.00" y2="471.50" stroke="#e89a10" stroke-width="1.1"/>
<line x1="248.70" y1="438.00" x2="248.70" y2="460.40" stroke="#e89a10" stroke-width="1.0"/>
<line x1="246.90" y1="438.00" x2="250.50" y2="438.00" stroke="#e89a10" stroke-width="1.1"/>
<line x1="246.90" y1="460.40" x2="250.50" y2="460.40" stroke="#e89a10" stroke-width="1.1"/>
<line x1="276.00" y1="414.40" x2="276.00" y2="440.00" stroke="#e89a10" stroke-width="1.0"/>
<line x1="274.20" y1="414.40" x2="277.80" y2="414.40" stroke="#e89a10" stroke-width="1.1"/>
<line x1="274.20" y1="440.00" x2="277.80" y2="440.00" stroke="#e89a10" stroke-width="1.1"/>
<line x1="303.50" y1="409.70" x2="303.50" y2="453.00" stroke="#e89a10" stroke-width="1.0"/>
<line x1="301.70" y1="409.70" x2="305.30" y2="409.70" stroke="#e89a10" stroke-width="1.1"/>
<line x1="301.70" y1="453.00" x2="305.30" y2="453.00" stroke="#e89a10" stroke-width="1.1"/>
<path d="M221.20,469.20 L223.40,465.24 L219.00,465.24 Z" fill="#e89a10"/>
<path d="M248.70,446.50 L250.90,442.54 L246.50,442.54 Z" fill="#e89a10"/>
<path d="M276.00,435.60 L278.20,431.64 L273.80,431.64 Z" fill="#e89a10"/>
<path d="M303.50,433.00 L305.70,429.04 L301.30,429.04 Z" fill="#e89a10"/>
<polyline points="221.2,469.0 248.7,448.7 276.0,444.8 303.5,441.7" fill="none" stroke="#3f1a5e" stroke-width="1.5" stroke-linejoin="round"/>
<line x1="221.20" y1="464.60" x2="221.20" y2="473.20" stroke="#3f1a5e" stroke-width="1.0"/>
<line x1="219.40" y1="464.60" x2="223.00" y2="464.60" stroke="#3f1a5e" stroke-width="1.1"/>
<line x1="219.40" y1="473.20" x2="223.00" y2="473.20" stroke="#3f1a5e" stroke-width="1.1"/>
<line x1="248.70" y1="437.40" x2="248.70" y2="459.50" stroke="#3f1a5e" stroke-width="1.0"/>
<line x1="246.90" y1="437.40" x2="250.50" y2="437.40" stroke="#3f1a5e" stroke-width="1.1"/>
<line x1="246.90" y1="459.50" x2="250.50" y2="459.50" stroke="#3f1a5e" stroke-width="1.1"/>
<line x1="276.00" y1="435.70" x2="276.00" y2="453.50" stroke="#3f1a5e" stroke-width="1.0"/>
<line x1="274.20" y1="435.70" x2="277.80" y2="435.70" stroke="#3f1a5e" stroke-width="1.1"/>
<line x1="274.20" y1="453.50" x2="277.80" y2="453.50" stroke="#3f1a5e" stroke-width="1.1"/>
<line x1="303.50" y1="433.40" x2="303.50" y2="450.40" stroke="#3f1a5e" stroke-width="1.0"/>
<line x1="301.70" y1="433.40" x2="305.30" y2="433.40" stroke="#3f1a5e" stroke-width="1.1"/>
<line x1="301.70" y1="450.40" x2="305.30" y2="450.40" stroke="#3f1a5e" stroke-width="1.1"/>
<circle cx="221.20" cy="469.00" r="2.10" fill="#3f1a5e"/>
<circle cx="248.70" cy="448.70" r="2.10" fill="#3f1a5e"/>
<circle cx="276.00" cy="444.80" r="2.10" fill="#3f1a5e"/>
<circle cx="303.50" cy="441.70" r="2.10" fill="#3f1a5e"/>
<polyline points="221.2,444.7 248.7,434.1 276.0,440.0 303.5,445.2" fill="none" stroke="#1f3f80" stroke-width="1.5" stroke-linejoin="round"/>
<line x1="221.20" y1="443.00" x2="221.20" y2="446.50" stroke="#1f3f80" stroke-width="1.0"/>
<line x1="219.40" y1="443.00" x2="223.00" y2="443.00" stroke="#1f3f80" stroke-width="1.1"/>
<line x1="219.40" y1="446.50" x2="223.00" y2="446.50" stroke="#1f3f80" stroke-width="1.1"/>
<line x1="248.70" y1="428.00" x2="248.70" y2="440.20" stroke="#1f3f80" stroke-width="1.0"/>
<line x1="246.90" y1="428.00" x2="250.50" y2="428.00" stroke="#1f3f80" stroke-width="1.1"/>
<line x1="246.90" y1="440.20" x2="250.50" y2="440.20" stroke="#1f3f80" stroke-width="1.1"/>
<line x1="276.00" y1="434.80" x2="276.00" y2="445.20" stroke="#1f3f80" stroke-width="1.0"/>
<line x1="274.20" y1="434.80" x2="277.80" y2="434.80" stroke="#1f3f80" stroke-width="1.1"/>
<line x1="274.20" y1="445.20" x2="277.80" y2="445.20" stroke="#1f3f80" stroke-width="1.1"/>
<line x1="303.50" y1="440.30" x2="303.50" y2="449.00" stroke="#1f3f80" stroke-width="1.0"/>
<line x1="301.70" y1="440.30" x2="305.30" y2="440.30" stroke="#1f3f80" stroke-width="1.1"/>
<line x1="301.70" y1="449.00" x2="305.30" y2="449.00" stroke="#1f3f80" stroke-width="1.1"/>
<rect x="219.10" y="442.60" width="4.20" height="4.20" fill="#1f3f80"/>
<rect x="246.60" y="432.00" width="4.20" height="4.20" fill="#1f3f80"/>
<rect x="273.90" y="437.90" width="4.20" height="4.20" fill="#1f3f80"/>
<rect x="301.40" y="443.10" width="4.20" height="4.20" fill="#1f3f80"/>
<polyline points="221.2,485.4 248.7,488.5 276.0,489.3 303.5,488.5" fill="none" stroke="#a5002c" stroke-width="1.5" stroke-linejoin="round"/>
<line x1="221.20" y1="482.00" x2="221.20" y2="488.80" stroke="#a5002c" stroke-width="1.0"/>
<line x1="219.40" y1="482.00" x2="223.00" y2="482.00" stroke="#a5002c" stroke-width="1.1"/>
<line x1="219.40" y1="488.80" x2="223.00" y2="488.80" stroke="#a5002c" stroke-width="1.1"/>
<line x1="248.70" y1="485.30" x2="248.70" y2="491.50" stroke="#a5002c" stroke-width="1.0"/>
<line x1="246.90" y1="485.30" x2="250.50" y2="485.30" stroke="#a5002c" stroke-width="1.1"/>
<line x1="246.90" y1="491.50" x2="250.50" y2="491.50" stroke="#a5002c" stroke-width="1.1"/>
<line x1="276.00" y1="485.90" x2="276.00" y2="492.00" stroke="#a5002c" stroke-width="1.0"/>
<line x1="274.20" y1="485.90" x2="277.80" y2="485.90" stroke="#a5002c" stroke-width="1.1"/>
<line x1="274.20" y1="492.00" x2="277.80" y2="492.00" stroke="#a5002c" stroke-width="1.1"/>
<line x1="303.50" y1="484.10" x2="303.50" y2="491.80" stroke="#a5002c" stroke-width="1.0"/>
<line x1="301.70" y1="484.10" x2="305.30" y2="484.10" stroke="#a5002c" stroke-width="1.1"/>
<line x1="301.70" y1="491.80" x2="305.30" y2="491.80" stroke="#a5002c" stroke-width="1.1"/>
<path d="M221.20,483.20 L223.40,487.16 L219.00,487.16 Z" fill="#a5002c"/>
<path d="M248.70,486.30 L250.90,490.26 L246.50,490.26 Z" fill="#a5002c"/>
<path d="M276.00,487.10 L278.20,491.06 L273.80,491.06 Z" fill="#a5002c"/>
<path d="M303.50,486.30 L305.70,490.26 L301.30,490.26 Z" fill="#a5002c"/>
<line x1="319.10" y1="406.00" x2="339.00" y2="406.00" stroke="#8a6aa2" stroke-width="1.5"/>
<circle cx="329.10" cy="406.00" r="1.68" fill="#3f1a5e"/>
<line x1="319.10" y1="421.40" x2="339.00" y2="421.40" stroke="#b8204a" stroke-width="1.5"/>
<path d="M329.10,419.64 L330.86,422.81 L327.34,422.81 Z" fill="#a5002c"/>
<line x1="319.10" y1="436.80" x2="339.00" y2="436.80" stroke="#5a78b0" stroke-width="1.5"/>
<rect x="327.42" y="435.12" width="3.36" height="3.36" fill="#1f3f80"/>
<line x1="319.10" y1="452.20" x2="339.00" y2="452.20" stroke="#e8a53a" stroke-width="1.5"/>
<path d="M329.10,453.96 L330.86,450.79 L327.34,450.79 Z" fill="#e89a10"/>
<text x="342.70" y="408.50" font-size="9.4" fill="#222" textLength="33.70" lengthAdjust="spacingAndGlyphs">WT Ctrl</text>
<text x="342.70" y="423.60" font-size="9.4" fill="#222" textLength="36.00" lengthAdjust="spacingAndGlyphs">WT TNF</text>
<text x="342.70" y="439.10" font-size="9.4" fill="#222" textLength="51.00" lengthAdjust="spacingAndGlyphs"><tspan font-style="italic">IL27Ra</tspan><tspan font-size="6.0" dy="-4.2">-/-</tspan><tspan dy="4.2"> Ctrl</tspan></text>
<text x="342.70" y="454.70" font-size="9.4" fill="#222" textLength="53.60" lengthAdjust="spacingAndGlyphs"><tspan font-style="italic">IL27Ra</tspan><tspan font-size="6.0" dy="-4.2">-/-</tspan><tspan dy="4.2"> TNF</tspan></text>
<line x1="382.20" y1="402.00" x2="382.20" y2="423.40" stroke="#111" stroke-width="1.3"/>
<text x="385.90" y="415.40" font-size="9.4" fill="#222" textLength="42.10" lengthAdjust="spacingAndGlyphs">p=0.0009</text>
<line x1="400.30" y1="433.20" x2="400.30" y2="454.00" stroke="#111" stroke-width="1.3"/>
<text x="403.70" y="446.60" font-size="9.4" fill="#222" textLength="9.20" lengthAdjust="spacingAndGlyphs">ns</text>
<text transform="translate(8.01,583.80) scale(1.050,1)" x="0" y="0" font-size="14.1" font-weight="bold" fill="#000">H</text>
<rect x="60.00" y="650.00" width="5.80" height="46.40" fill="#502366"/>
<line x1="62.90" y1="650.00" x2="62.90" y2="640.50" stroke="#231f20" stroke-width="0.9"/>
<line x1="61.30" y1="640.50" x2="64.50" y2="640.50" stroke="#231f20" stroke-width="1.1"/>
<rect x="65.80" y="651.80" width="6.20" height="44.60" fill="#a5002c"/>
<line x1="68.90" y1="651.80" x2="68.90" y2="642.00" stroke="#231f20" stroke-width="0.9"/>
<line x1="67.30" y1="642.00" x2="70.50" y2="642.00" stroke="#231f20" stroke-width="1.1"/>
<rect x="72.00" y="628.80" width="5.80" height="67.60" fill="#2f4d80"/>
<line x1="74.90" y1="628.80" x2="74.90" y2="624.60" stroke="#231f20" stroke-width="0.9"/>
<line x1="73.30" y1="624.60" x2="76.50" y2="624.60" stroke="#231f20" stroke-width="1.1"/>
<rect x="77.80" y="618.20" width="6.00" height="78.20" fill="#e08c12"/>
<line x1="80.80" y1="618.20" x2="80.80" y2="613.00" stroke="#231f20" stroke-width="0.9"/>
<line x1="79.20" y1="613.00" x2="82.40" y2="613.00" stroke="#231f20" stroke-width="1.1"/>
<rect x="90.30" y="687.70" width="5.90" height="8.70" fill="#502366"/>
<line x1="93.25" y1="687.70" x2="93.25" y2="684.60" stroke="#231f20" stroke-width="0.9"/>
<line x1="91.65" y1="684.60" x2="94.85" y2="684.60" stroke="#231f20" stroke-width="1.1"/>
<rect x="96.20" y="671.20" width="6.10" height="25.20" fill="#a5002c"/>
<line x1="99.25" y1="671.20" x2="99.25" y2="655.40" stroke="#231f20" stroke-width="0.9"/>
<line x1="97.65" y1="655.40" x2="100.85" y2="655.40" stroke="#231f20" stroke-width="1.1"/>
<rect x="102.30" y="690.00" width="6.20" height="6.40" fill="#2f4d80"/>
<line x1="105.40" y1="690.00" x2="105.40" y2="687.20" stroke="#231f20" stroke-width="0.9"/>
<line x1="103.80" y1="687.20" x2="107.00" y2="687.20" stroke="#231f20" stroke-width="1.1"/>
<rect x="108.50" y="682.80" width="5.80" height="13.60" fill="#e08c12"/>
<line x1="111.40" y1="682.80" x2="111.40" y2="679.20" stroke="#231f20" stroke-width="0.9"/>
<line x1="109.80" y1="679.20" x2="113.00" y2="679.20" stroke="#231f20" stroke-width="1.1"/>
<rect x="121.20" y="639.90" width="5.60" height="56.50" fill="#502366"/>
<line x1="124.00" y1="639.90" x2="124.00" y2="627.20" stroke="#231f20" stroke-width="0.9"/>
<line x1="122.40" y1="627.20" x2="125.60" y2="627.20" stroke="#231f20" stroke-width="1.1"/>
<rect x="126.80" y="654.00" width="6.00" height="42.40" fill="#a5002c"/>
<line x1="129.80" y1="654.00" x2="129.80" y2="645.40" stroke="#231f20" stroke-width="0.9"/>
<line x1="128.20" y1="645.40" x2="131.40" y2="645.40" stroke="#231f20" stroke-width="1.1"/>
<rect x="132.80" y="659.10" width="6.20" height="37.30" fill="#2f4d80"/>
<line x1="135.90" y1="659.10" x2="135.90" y2="653.60" stroke="#231f20" stroke-width="0.9"/>
<line x1="134.30" y1="653.60" x2="137.50" y2="653.60" stroke="#231f20" stroke-width="1.1"/>
<rect x="139.00" y="675.20" width="6.00" height="21.20" fill="#e08c12"/>
<line x1="142.00" y1="675.20" x2="142.00" y2="666.20" stroke="#231f20" stroke-width="0.9"/>
<line x1="140.40" y1="666.20" x2="143.60" y2="666.20" stroke="#231f20" stroke-width="1.1"/>
<line x1="56.80" y1="601.50" x2="56.80" y2="697.00" stroke="#111" stroke-width="1.3"/>
<line x1="56.20" y1="696.40" x2="148.70" y2="696.40" stroke="#111" stroke-width="1.3"/>
<line x1="52.90" y1="605.40" x2="56.80" y2="605.40" stroke="#111" stroke-width="1.2"/>
<text x="49.90" y="608.90" font-size="10.0" text-anchor="end" fill="#222" textLength="11.00" lengthAdjust="spacingAndGlyphs">80</text>
<line x1="52.90" y1="628.40" x2="56.80" y2="628.40" stroke="#111" stroke-width="1.2"/>
<text x="49.90" y="631.90" font-size="10.0" text-anchor="end" fill="#222" textLength="11.00" lengthAdjust="spacingAndGlyphs">60</text>
<line x1="52.90" y1="651.20" x2="56.80" y2="651.20" stroke="#111" stroke-width="1.2"/>
<text x="49.90" y="654.70" font-size="10.0" text-anchor="end" fill="#222" textLength="11.00" lengthAdjust="spacingAndGlyphs">40</text>
<line x1="52.90" y1="673.90" x2="56.80" y2="673.90" stroke="#111" stroke-width="1.2"/>
<text x="49.90" y="677.40" font-size="10.0" text-anchor="end" fill="#222" textLength="11.00" lengthAdjust="spacingAndGlyphs">20</text>
<line x1="52.90" y1="696.40" x2="56.80" y2="696.40" stroke="#111" stroke-width="1.2"/>
<text x="49.90" y="699.90" font-size="10.0" text-anchor="end" fill="#222" textLength="5.20" lengthAdjust="spacingAndGlyphs">0</text>
<line x1="72.00" y1="696.40" x2="72.00" y2="700.20" stroke="#111" stroke-width="1.2"/>
<line x1="102.30" y1="696.40" x2="102.30" y2="700.20" stroke="#111" stroke-width="1.2"/>
<line x1="132.80" y1="696.40" x2="132.80" y2="700.20" stroke="#111" stroke-width="1.2"/>
<text x="72.10" y="712.30" font-size="9.4" text-anchor="middle" fill="#222">B</text>
<text x="102.60" y="712.30" font-size="9.4" text-anchor="middle" fill="#222">T</text>
<text x="115.80" y="712.30" font-size="9.4" fill="#222" textLength="34.20" lengthAdjust="spacingAndGlyphs">Myeloid</text>
<text x="33.30" y="698.60" font-size="11.2" fill="#222" textLength="98.60" lengthAdjust="spacingAndGlyphs" transform="rotate(-90 33.30 698.60)">Lineage distribution (%)</text>
<path d="M67.4,603.4 L67.4,599.2 L81.6,599.2 L81.6,603.4" fill="none" stroke="#222" stroke-width="1.2"/>
<text x="63.40" y="594.90" font-size="9.4" fill="#222" textLength="39.60" lengthAdjust="spacingAndGlyphs">p=0.0112</text>
<path d="M61.4,632.3 L61.4,618.7 L74.8,618.7 L74.8,622.5" fill="none" stroke="#222" stroke-width="1.2"/>
<text x="58.40" y="611.00" font-size="9.4" fill="#222" textLength="38.40" lengthAdjust="spacingAndGlyphs">p=0.0437</text>
<rect x="161.60" y="648.70" width="19.70" height="3.50" fill="#502366"/>
<rect x="161.60" y="661.30" width="19.70" height="3.50" fill="#a5002c"/>
<rect x="161.60" y="675.50" width="19.70" height="3.50" fill="#2f4d80"/>
<rect x="161.60" y="689.70" width="19.70" height="3.50" fill="#e08c12"/>
<text x="185.30" y="653.00" font-size="9.4" fill="#222" textLength="30.60" lengthAdjust="spacingAndGlyphs">WT Ctrl</text>
<text x="185.30" y="666.00" font-size="9.4" fill="#222" textLength="33.40" lengthAdjust="spacingAndGlyphs">WT TNF</text>
<text x="185.30" y="680.20" font-size="9.4" fill="#222" textLength="51.00" lengthAdjust="spacingAndGlyphs"><tspan font-style="italic">IL27Ra</tspan><tspan font-size="6.0" dy="-4.2">-/-</tspan><tspan dy="4.2"> Ctrl</tspan></text>
<text x="185.30" y="694.00" font-size="9.4" fill="#222" textLength="53.60" lengthAdjust="spacingAndGlyphs"><tspan font-style="italic">IL27Ra</tspan><tspan font-size="6.0" dy="-4.2">-/-</tspan><tspan dy="4.2"> TNF</tspan></text>
<text transform="translate(256.46,584.00) scale(1.527,1)" x="0" y="0" font-size="14.1" font-weight="bold" fill="#000">I</text>
<text x="265.20" y="600.60" font-size="10.0" fill="#222" textLength="66.50" lengthAdjust="spacingAndGlyphs">WT or <tspan font-style="italic">IL27Ra</tspan><tspan font-size="6.2" dy="-4.4">-/-</tspan><tspan dy="4.4"></tspan></text>
<text x="277.60" y="612.40" font-size="10.0" fill="#222" textLength="38.40" lengthAdjust="spacingAndGlyphs">200 HSC</text>
<line x1="298.10" y1="617.60" x2="298.10" y2="624.90" stroke="#111" stroke-width="1.0"/>
<path d="M295.50,624.40 L300.70,624.40 L298.10,629.40 Z" fill="#111"/>
<ellipse cx="298.6" cy="650.9" rx="22.4" ry="11.3" fill="#505050" stroke="#222" stroke-width="0.6"/>
<ellipse cx="298.6" cy="650.9" rx="22.1" ry="10.5" fill="none" stroke="#bdbdbd" stroke-width="0.8"/>
<ellipse cx="298.6" cy="650.9" rx="21.8" ry="9.0" fill="none" stroke="#bdbdbd" stroke-width="0.8"/>
<ellipse cx="298.6" cy="650.9" rx="21.5" ry="7.5" fill="none" stroke="#bdbdbd" stroke-width="0.8"/>
<ellipse cx="298.6" cy="650.6999999999999" rx="20.8" ry="5.6" fill="#d6d6d6" stroke="#666" stroke-width="0.5"/>
<text x="283.40" y="653.70" font-size="9.6" fill="#222" textLength="31.00" lengthAdjust="spacingAndGlyphs">±TNF<tspan font-family="Liberation Serif" font-style="italic">α</tspan></text>
<line x1="298.20" y1="665.20" x2="298.20" y2="672.50" stroke="#111" stroke-width="1.0"/>
<path d="M295.60,672.00 L300.80,672.00 L298.20,677.00 Z" fill="#111"/>
<text x="305.60" y="674.80" font-size="10.0" fill="#222" textLength="13.80" lengthAdjust="spacingAndGlyphs">8 d</text>
<text x="280.90" y="696.30" font-size="10.0" fill="#222" textLength="34.40" lengthAdjust="spacingAndGlyphs">Analysis</text>
<line x1="388.00" y1="578.10" x2="388.00" y2="697.00" stroke="#111" stroke-width="1.3"/>
<line x1="387.40" y1="696.40" x2="484.40" y2="696.40" stroke="#111" stroke-width="1.3"/>
<line x1="384.40" y1="581.50" x2="388.00" y2="581.50" stroke="#111" stroke-width="1.2"/>
<text x="380.90" y="585.00" font-size="10.0" text-anchor="end" fill="#222" textLength="10.60" lengthAdjust="spacingAndGlyphs">25</text>
<line x1="384.40" y1="604.50" x2="388.00" y2="604.50" stroke="#111" stroke-width="1.2"/>
<text x="380.90" y="608.00" font-size="10.0" text-anchor="end" fill="#222" textLength="10.60" lengthAdjust="spacingAndGlyphs">20</text>
<line x1="384.40" y1="627.40" x2="388.00" y2="627.40" stroke="#111" stroke-width="1.2"/>
<text x="380.90" y="630.90" font-size="10.0" text-anchor="end" fill="#222" textLength="10.60" lengthAdjust="spacingAndGlyphs">15</text>
<line x1="384.40" y1="650.30" x2="388.00" y2="650.30" stroke="#111" stroke-width="1.2"/>
<text x="380.90" y="653.80" font-size="10.0" text-anchor="end" fill="#222" textLength="10.60" lengthAdjust="spacingAndGlyphs">10</text>
<line x1="384.40" y1="673.40" x2="388.00" y2="673.40" stroke="#111" stroke-width="1.2"/>
<text x="380.90" y="676.90" font-size="10.0" text-anchor="end" fill="#222" textLength="5.20" lengthAdjust="spacingAndGlyphs">5</text>
<line x1="384.40" y1="696.40" x2="388.00" y2="696.40" stroke="#111" stroke-width="1.2"/>
<text x="380.90" y="699.90" font-size="10.0" text-anchor="end" fill="#222" textLength="5.20" lengthAdjust="spacingAndGlyphs">0</text>
<text x="364.20" y="685.20" font-size="10.6" fill="#222" textLength="96.20" lengthAdjust="spacingAndGlyphs" transform="rotate(-90 364.20 685.20)">% of Gr-1<tspan font-size="10.0" dy="-3.6">+</tspan><tspan dy="3.6"> Mac-1<tspan font-size="10.0" dy="-3.6">+</tspan><tspan dy="3.6"> cells</tspan></tspan></text>
<rect x="418.50" y="594.70" width="3.60" height="3.60" fill="#b0002a"/>
<rect x="415.40" y="605.60" width="3.60" height="3.60" fill="#b0002a"/>
<rect x="421.40" y="609.90" width="3.60" height="3.60" fill="#b0002a"/>
<rect x="421.10" y="629.00" width="3.60" height="3.60" fill="#b0002a"/>
<rect x="415.00" y="634.50" width="3.60" height="3.60" fill="#b0002a"/>
<rect x="469.20" y="622.10" width="3.60" height="3.60" fill="#b0002a"/>
<rect x="463.20" y="626.40" width="3.60" height="3.60" fill="#b0002a"/>
<rect x="463.70" y="657.00" width="3.60" height="3.60" fill="#b0002a"/>
<rect x="468.00" y="657.90" width="3.60" height="3.60" fill="#b0002a"/>
<rect x="466.30" y="682.70" width="3.60" height="3.60" fill="#b0002a"/>
<line x1="420.80" y1="608.60" x2="420.80" y2="624.20" stroke="#c03a64" stroke-width="0.9"/>
<line x1="418.60" y1="608.60" x2="423.70" y2="608.60" stroke="#c03a64" stroke-width="0.9"/>
<line x1="418.60" y1="624.20" x2="423.70" y2="624.20" stroke="#c03a64" stroke-width="0.9"/>
<line x1="467.70" y1="640.20" x2="467.70" y2="662.00" stroke="#c03a64" stroke-width="0.9"/>
<line x1="464.30" y1="640.20" x2="471.50" y2="640.20" stroke="#c03a64" stroke-width="0.9"/>
<line x1="464.30" y1="662.00" x2="471.50" y2="662.00" stroke="#c03a64" stroke-width="0.9"/>
<line x1="412.20" y1="616.40" x2="427.60" y2="616.40" stroke="#111" stroke-width="1.3"/>
<line x1="460.00" y1="651.10" x2="475.90" y2="651.10" stroke="#111" stroke-width="1.3"/>
<circle cx="404.20" cy="677.70" r="1.9" fill="#4a1f6a"/>
<circle cx="398.00" cy="687.70" r="1.9" fill="#4a1f6a"/>
<circle cx="402.00" cy="691.20" r="1.9" fill="#4a1f6a"/>
<circle cx="405.80" cy="689.20" r="1.9" fill="#4a1f6a"/>
<circle cx="410.00" cy="686.20" r="1.9" fill="#4a1f6a"/>
<circle cx="451.80" cy="686.60" r="1.9" fill="#4a1f6a"/>
<circle cx="445.70" cy="691.50" r="1.9" fill="#4a1f6a"/>
<circle cx="449.70" cy="693.00" r="1.9" fill="#4a1f6a"/>
<circle cx="453.50" cy="692.30" r="1.9" fill="#4a1f6a"/>
<circle cx="457.70" cy="688.80" r="1.9" fill="#4a1f6a"/>
<line x1="403.80" y1="684.60" x2="403.80" y2="687.50" stroke="#9a6ab0" stroke-width="0.8"/>
<line x1="396.20" y1="686.30" x2="411.50" y2="686.30" stroke="#111" stroke-width="1.3"/>
<line x1="444.20" y1="690.00" x2="459.50" y2="690.00" stroke="#111" stroke-width="1.3"/>
<line x1="398.70" y1="602.80" x2="422.00" y2="602.80" stroke="#505050" stroke-width="1.4"/>
<text x="398.00" y="601.60" font-size="9.2" fill="#222" textLength="42.00" lengthAdjust="spacingAndGlyphs" transform="rotate(-45 398.00 601.60)">p&lt; 0.0001</text>
<path d="M419.4,591.8 L419.4,586.1 L469.6,586.1 L469.6,591.8" fill="none" stroke="#2a2a2a" stroke-width="1.3"/>
<text x="435.30" y="583.20" font-size="9.2" fill="#222" textLength="29.10" lengthAdjust="spacingAndGlyphs">p=0.03</text>
<line x1="446.30" y1="617.30" x2="469.80" y2="617.30" stroke="#2a2a2a" stroke-width="1.3"/>
<text x="450.80" y="613.00" font-size="9.2" fill="#222" textLength="38.90" lengthAdjust="spacingAndGlyphs">p=0.0075</text>
<text x="403.10" y="709.00" font-size="9.2" text-anchor="middle" fill="#222">-</text>
<text x="419.80" y="709.20" font-size="9.2" text-anchor="middle" fill="#222">+</text>
<text x="450.40" y="709.00" font-size="9.2" text-anchor="middle" fill="#222">-</text>
<text x="467.10" y="709.20" font-size="9.2" text-anchor="middle" fill="#222">+</text>
<text x="484.40" y="708.10" font-size="9.4" fill="#222" textLength="27.00" lengthAdjust="spacingAndGlyphs">TNF-<tspan font-family="Liberation Serif" font-style="italic">α</tspan></text>
<line x1="392.80" y1="714.60" x2="431.70" y2="714.60" stroke="#111" stroke-width="1.2"/>
<line x1="440.80" y1="714.60" x2="478.70" y2="714.60" stroke="#111" stroke-width="1.2"/>
<text x="405.00" y="730.30" font-size="10.0" fill="#222" textLength="14.60" lengthAdjust="spacingAndGlyphs">WT</text>
<text x="442.10" y="729.20" font-size="9.4" fill="#222" textLength="35.60" lengthAdjust="spacingAndGlyphs"><tspan font-style="italic">IL27Ra</tspan><tspan font-size="6.0" dy="-4.2">-/-</tspan><tspan dy="4.2"></tspan></text>
<rect x="0.75" y="0.75" width="518.5" height="737.5" fill="none" stroke="#000" stroke-width="1.5"/>
</svg>
</body></html>
